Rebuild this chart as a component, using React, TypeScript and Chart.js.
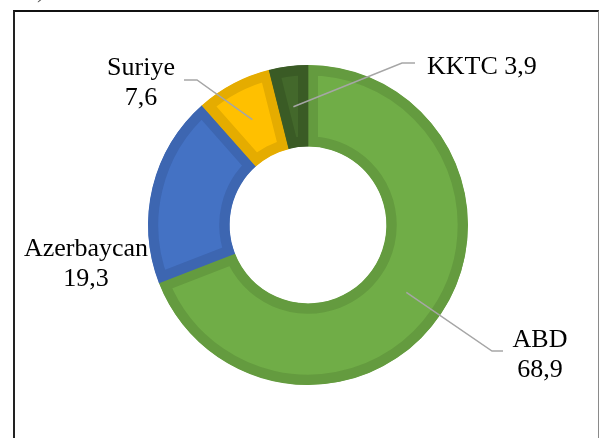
import React, { useEffect, useRef } from "react";
import { Chart, registerables } from "chart.js";

Chart.register(...registerables);

const categories = ["ABD", "Azerbaycan", "Suriye", "KKTC"];
const values = [68.9, 19.3, 7.6, 3.9];
const valueLabels = ["68,9", "19,3", "7,6", "3,9"];
const fillColors = ["#70AD47", "#4472C4", "#FFC000", "#43682B"];
const borderColors = ["#649B3F", "#3D66B1", "#E5AC00", "#3A5B25"];

const FONT = "26px 'Liberation Serif', 'Times New Roman', serif";

const labelLayout: Record<string, { elbow?: [number, number]; end?: [number, number]; tx: number; ty: number; align: CanvasTextAlign; oneLine?: boolean }> = {
  ABD: { elbow: [492, 351], end: [503, 351], tx: 540, ty: 347, align: "center" },
  Azerbaycan: { tx: 86, ty: 256, align: "center" },
  Suriye: { elbow: [197, 80], end: [184, 80], tx: 141, ty: 75, align: "center" },
  KKTC: { elbow: [402, 63], end: [415, 63], tx: 427, ty: 74, align: "left", oneLine: true },
};

const labelPlugin = {
  id: "donutLabels",
  afterDatasetsDraw(chart: any) {
    const ctx = chart.ctx as CanvasRenderingContext2D;
    const meta = chart.getDatasetMeta(0);
    ctx.save();
    meta.data.forEach((arc: any, i: number) => {
      const name = categories[i];
      const lay = labelLayout[name];
      if (!lay) return;
      if (lay.elbow && lay.end) {
        const p = arc.tooltipPosition();
        ctx.beginPath();
        ctx.strokeStyle = "#A6A6A6";
        ctx.lineWidth = 1.5;
        ctx.moveTo(p.x, p.y);
        ctx.lineTo(lay.elbow[0], lay.elbow[1]);
        ctx.lineTo(lay.end[0], lay.end[1]);
        ctx.stroke();
      }
      ctx.fillStyle = "#000";
      ctx.font = FONT;
      ctx.textAlign = lay.align;
      ctx.textBaseline = "alphabetic";
      if (lay.oneLine) {
        ctx.fillText(name + " " + valueLabels[i], lay.tx, lay.ty);
      } else {
        ctx.fillText(name, lay.tx, lay.ty);
        ctx.fillText(valueLabels[i], lay.tx, lay.ty + 30);
      }
    });
    ctx.textAlign = "left";
    ctx.fillStyle = "#555";
    ctx.font = FONT;
    ctx.fillText(")", 37, -3);
    ctx.restore();
  },
};

export default function App() {
  const ref = useRef<HTMLCanvasElement | null>(null);
  useEffect(() => {
    if (!ref.current) return;
    const chart = new Chart(ref.current, {
      type: "doughnut",
      data: {
        labels: categories,
        datasets: [
          {
            data: values,
            backgroundColor: fillColors,
            borderColor: borderColors,
            borderWidth: 10,
            borderAlign: "inner",
            borderJoinStyle: "miter",
            hoverOffset: 0,
            offset: 0,
          } as any,
        ],
      },
      options: {
        responsive: false,
        animation: false,
        cutout: "49%",
        layout: { padding: { left: 148, right: 132, top: 65, bottom: 53 } },
        plugins: { legend: { display: false }, tooltip: { enabled: false } },
        events: [],
      },
      plugins: [labelPlugin],
    });
    return () => chart.destroy();
  }, []);

  return (
    <div style={{ position: "absolute", left: 0, top: 0, width: 600, height: 438, overflow: "hidden", background: "#fff" }}>
      <div
        style={{
          position: "absolute",
          left: 13,
          top: 10,
          width: 583,
          height: 500,
          borderLeft: "2px solid #222",
          borderTop: "2px solid #111",
          borderRight: "1px solid #8a8a8a",
        }}
      />
      <canvas ref={ref} width={600} height={438} style={{ position: "absolute", left: 0, top: 0 }} />
    </div>
  );
}
